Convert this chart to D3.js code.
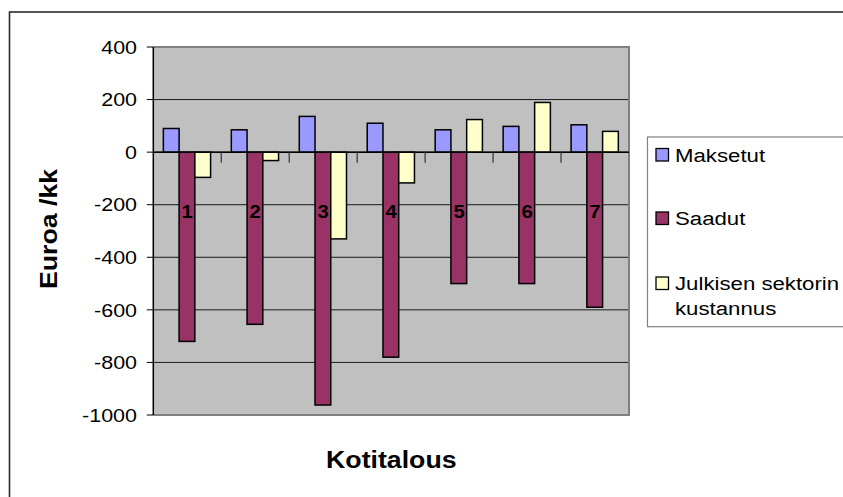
<!DOCTYPE html>
<html>
<head>
<meta charset="utf-8">
<script src="https://cdn.jsdelivr.net/npm/d3@7/dist/d3.min.js"></script>
<style>
  html, body { margin: 0; padding: 0; background: #ffffff; }
  svg { display: block; }
  text { font-family: "Liberation Sans", Arial, sans-serif; fill: #000; }
</style>
</head>
<body>
<svg id="chart" width="843" height="497"></svg>
<script>
// Household categories and the three series (euros per month)
const categories = ["1", "2", "3", "4", "5", "6", "7"];
const seriesNames = ["Maksetut", "Saadut", "Julkisen sektorin kustannus"];
const maksetut = [90, 85, 136, 110, 85, 98, 104];
const saadut = [-720, -655, -962, -780, -500, -500, -590];
const julkinen = [-96, -32, -330, -117, 124, 189, 79];
const yTicks = [400, 200, 0, -200, -400, -600, -800, -1000];
const seriesColors = ["#9999FF", "#993366", "#FFFFCC"];

const seriesValues = [maksetut, saadut, julkinen];

const svg = d3.select("#chart");
const plot = { left: 153.3, right: 629, top: 47, bottom: 415 };

// Outer chart frame
svg.append("rect")
  .attr("x", 9.5).attr("y", 12)
  .attr("width", 860).attr("height", 500)
  .attr("fill", "#fff").attr("stroke", "#2a2a2a").attr("stroke-width", 1.6);

const y = d3.scaleLinear().domain([-1000, 400]).range([plot.bottom, plot.top]);
const x0 = d3.scaleBand().domain(categories).range([plot.left, plot.right]).padding(0);
const x1 = d3.scaleBand().domain(d3.range(seriesNames.length))
  .range([x0.bandwidth() * 0.148, x0.bandwidth() * 0.843]).padding(0);

// Plot area background
svg.append("rect")
  .attr("x", plot.left).attr("y", plot.top)
  .attr("width", plot.right - plot.left).attr("height", plot.bottom - plot.top)
  .attr("fill", "#C0C0C0");

// Horizontal gridlines
svg.append("g").selectAll("line")
  .data(yTicks.filter(t => t !== 400 && t !== -1000))
  .join("line")
  .attr("x1", plot.left).attr("x2", plot.right)
  .attr("y1", d => y(d)).attr("y2", d => y(d))
  .attr("stroke", "#1a1a1a").attr("stroke-width", 1);

// Plot area border (top, right, bottom)
svg.append("path")
  .attr("d", `M${plot.left},${y(400)}H${plot.right}V${y(-1000)}H${plot.left}`)
  .attr("fill", "none").attr("stroke", "#808080").attr("stroke-width", 2);

// Bars
const groups = svg.append("g").selectAll("g")
  .data(categories)
  .join("g")
  .attr("transform", d => `translate(${x0(d)},0)`);

groups.selectAll("rect")
  .data((d, i) => seriesValues.map((vals, s) => ({ s, v: vals[i] })))
  .join("rect")
  .attr("x", d => x1(d.s))
  .attr("width", x1.bandwidth())
  .attr("y", d => y(Math.max(0, d.v)))
  .attr("height", d => Math.abs(y(d.v) - y(0)))
  .attr("fill", d => seriesColors[d.s])
  .attr("stroke", "#000").attr("stroke-width", 1.5);

// Stretched text helper
function stretchedText(parent, tx, ty, str, opts) {
  const g = parent.append("g").attr("transform", `translate(${tx},${ty})` + (opts.rotate ? ` rotate(${opts.rotate})` : ""));
  g.append("text")
    .attr("transform", `scale(${opts.sx || 1},1)`)
    .attr("text-anchor", opts.anchor || "start")
    .attr("dominant-baseline", opts.baseline || "auto")
    .style("font-size", opts.size + "px")
    .style("font-weight", opts.weight || "normal")
    .text(str);
  return g;
}

// Value axis
const yAxis = svg.append("g");
yAxis.append("line")
  .attr("x1", plot.left).attr("x2", plot.left)
  .attr("y1", plot.top).attr("y2", plot.bottom)
  .attr("stroke", "#000").attr("stroke-width", 1.5);
yAxis.selectAll("line.tick")
  .data(yTicks)
  .join("line")
  .attr("class", "tick")
  .attr("x1", plot.left - 6.5).attr("x2", plot.left)
  .attr("y1", d => y(d)).attr("y2", d => y(d))
  .attr("stroke", "#000").attr("stroke-width", 1);
yTicks.forEach(t => {
  stretchedText(svg, 137, y(t) + 6.7, String(t), { size: 19, sx: 1.13, anchor: "end" });
});

// Category axis along zero
const xAxis = svg.append("g");
xAxis.append("line")
  .attr("x1", plot.left).attr("x2", plot.right)
  .attr("y1", y(0)).attr("y2", y(0))
  .attr("stroke", "#000").attr("stroke-width", 1.5);
xAxis.selectAll("line.tick")
  .data(categories.slice(1))
  .join("line")
  .attr("class", "tick")
  .attr("x1", d => x0(d)).attr("x2", d => x0(d))
  .attr("y1", y(0)).attr("y2", y(0) + 10.5)
  .attr("stroke", "#333").attr("stroke-width", 1.2);
categories.forEach(c => {
  stretchedText(svg, x0(c) + x0.bandwidth() / 2, 218.3, c, { size: 18.5, sx: 1.1, anchor: "middle", weight: "bold" });
});

// Axis titles
stretchedText(svg, 56.5, 229, "Euroa /kk", { size: 24.5, sx: 1.09, anchor: "middle", weight: "bold", rotate: -90 });
stretchedText(svg, 391.3, 468.3, "Kotitalous", { size: 24.5, sx: 1.09, anchor: "middle", weight: "bold" });

// Legend
const legend = svg.append("g");
legend.append("rect")
  .attr("x", 647.5).attr("y", 137)
  .attr("width", 240).attr("height", 189.7)
  .attr("fill", "#fff").attr("stroke", "#808080").attr("stroke-width", 1.2);

const legendRows = [
  { lines: ["Maksetut"], base: 161.7, swatch: 148.5 },
  { lines: ["Saadut"], base: 225, swatch: 212 },
  { lines: ["Julkisen sektorin", "kustannus"], base: 290, swatch: 277 }
];
legendRows.forEach((row, i) => {
  legend.append("rect")
    .attr("x", 656).attr("y", row.swatch)
    .attr("width", 12.5).attr("height", 12.5)
    .attr("fill", seriesColors[i]).attr("stroke", "#000").attr("stroke-width", 1.3);
  row.lines.forEach((ln, j) => {
    stretchedText(legend, 675, row.base + j * 25, ln, { size: 19, sx: 1.17 });
  });
});
</script>
</body>
</html>
